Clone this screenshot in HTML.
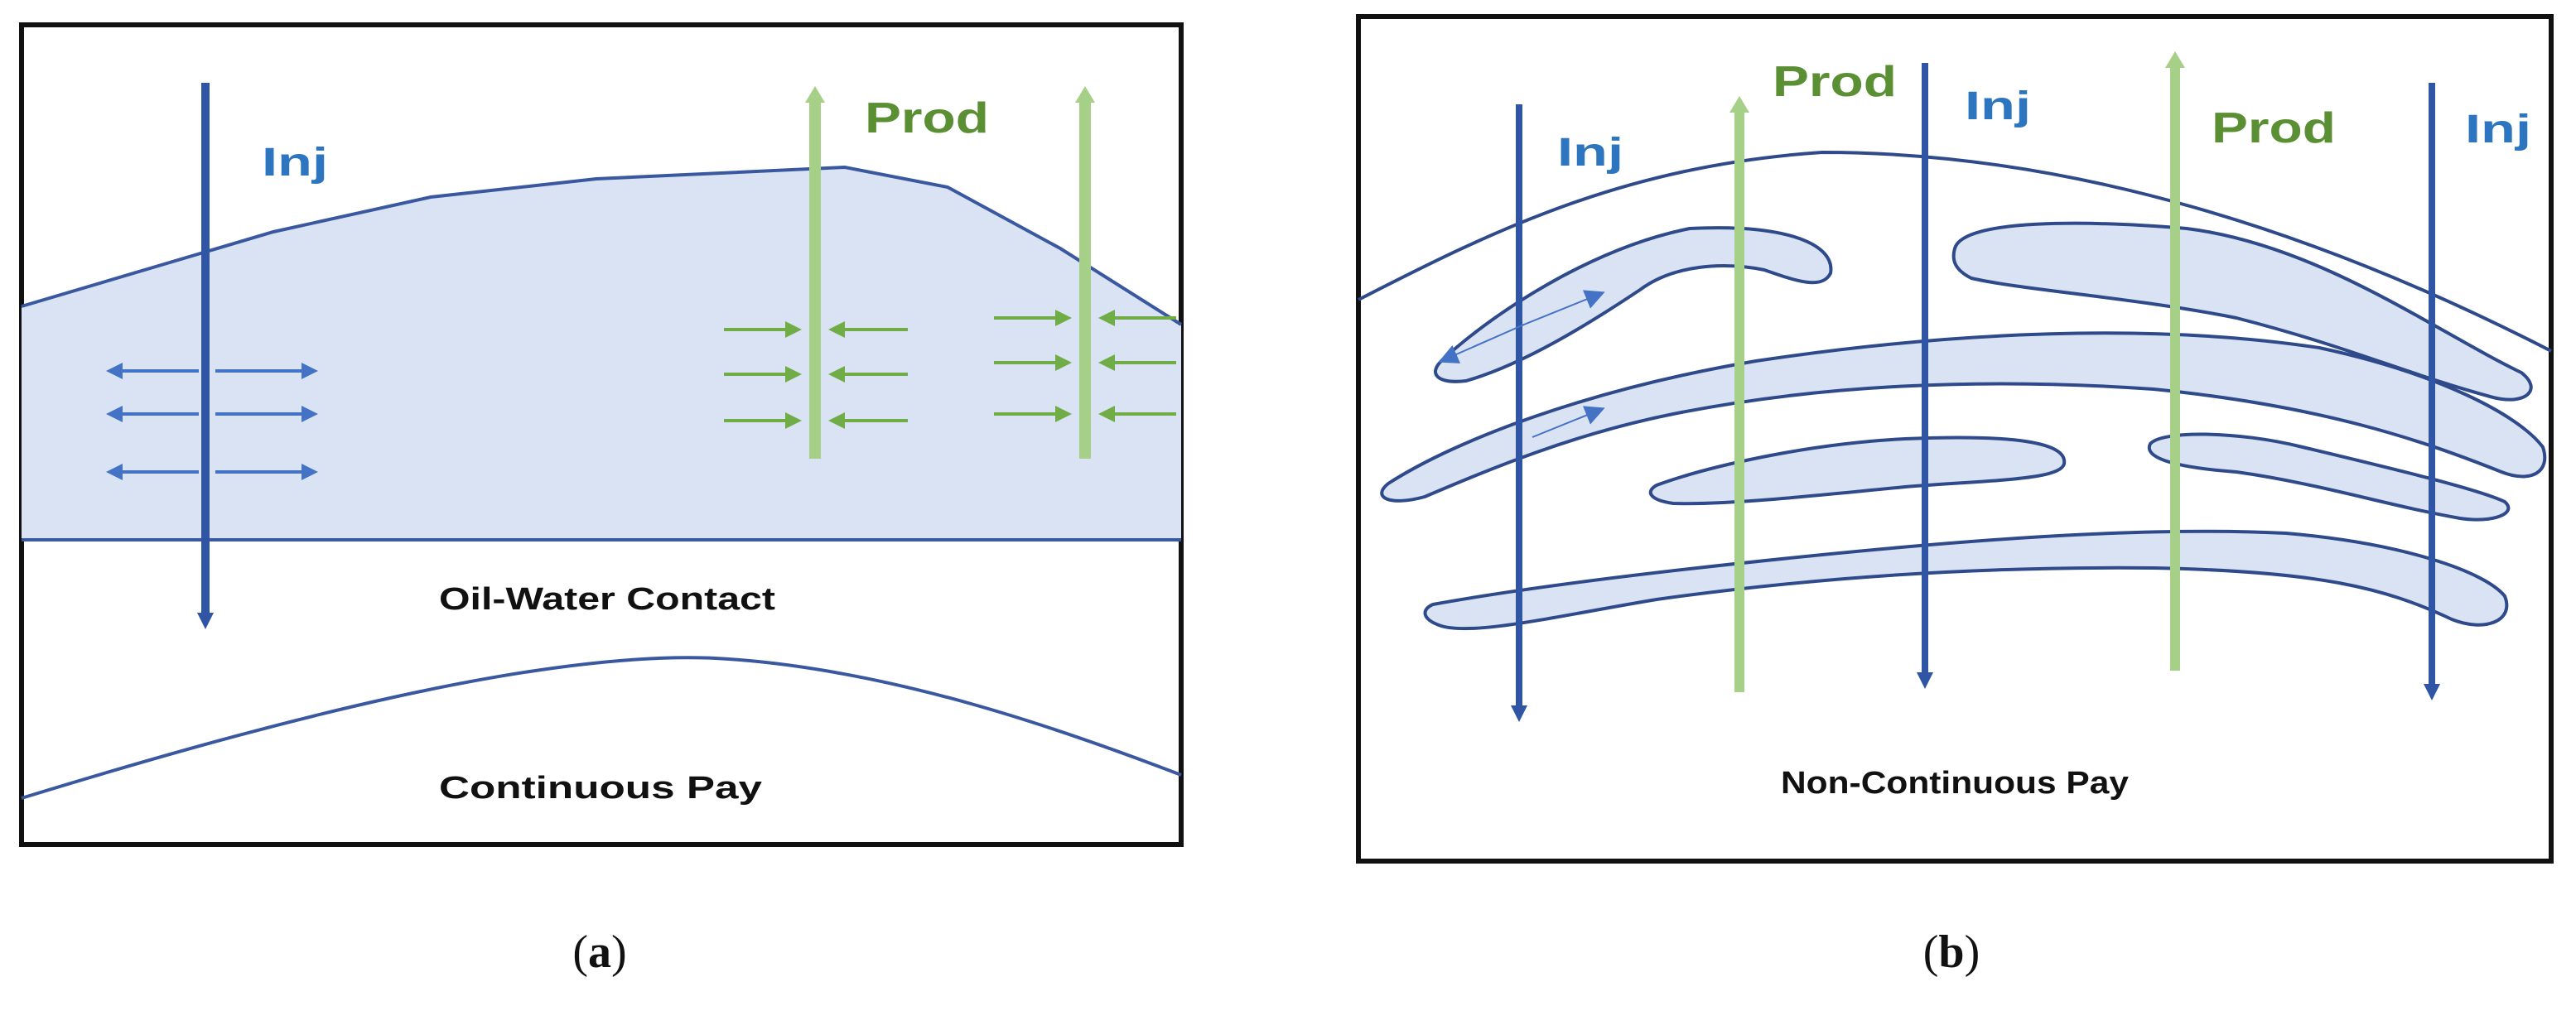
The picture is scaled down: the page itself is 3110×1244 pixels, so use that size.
<!DOCTYPE html>
<html><head><style>html,body{margin:0;padding:0;background:#fff}svg{display:block}</style></head>
<body>
<svg width="3110" height="1244" viewBox="0 0 1555 622" xmlns="http://www.w3.org/2000/svg">
<defs>
<marker id="bd" markerWidth="12" markerHeight="12" refX="4" refY="6" orient="auto" markerUnits="userSpaceOnUse"><path d="M0,1 L10,6 L0,11 Z" fill="#2f55a4"/></marker>
<marker id="gd" markerWidth="14" markerHeight="14" refX="4" refY="7" orient="auto" markerUnits="userSpaceOnUse"><path d="M0,1 L10,7 L0,13 Z" fill="#a6cf88"/></marker>
<marker id="ba" markerWidth="5" markerHeight="5" refX="4" refY="2.5" orient="auto" markerUnits="strokeWidth"><path d="M0,0 L5,2.5 L0,5 Z" fill="#4472c4"/></marker>
<marker id="ga" markerWidth="5" markerHeight="5" refX="4" refY="2.5" orient="auto" markerUnits="strokeWidth"><path d="M0,0 L5,2.5 L0,5 Z" fill="#70ad47"/></marker>
<marker id="sa" markerWidth="12" markerHeight="12" refX="10" refY="6" orient="auto" markerUnits="userSpaceOnUse"><path d="M0,0 L12,6 L0,12 Z" fill="#4472c4"/></marker>
</defs>
<!-- Panel a -->
<rect x="13" y="15" width="700" height="495" fill="#fff" stroke="#111" stroke-width="3"/>
<path d="M13,185 L165,140 L260,119 L360,108 L510,101 L572,113 L640,150 L713,196 L713,326 L13,326 Z" fill="#dae3f3" stroke="none"/>
<path d="M13,185 L165,140 L260,119 L360,108 L510,101 L572,113 L640,150 L713,196" fill="none" stroke="#3a58a0" stroke-width="2"/>
<line x1="13" y1="326" x2="713" y2="326" stroke="#3a58a0" stroke-width="2"/>
<path d="M13,482 C150,440 330,390 440,398 C540,405 640,440 713,468" fill="none" stroke="#3a58a0" stroke-width="2"/>
<g stroke="#4472c4" stroke-width="2" fill="none">
<line x1="120" y1="224" x2="66" y2="224" marker-end="url(#ba)"/><line x1="130" y1="224" x2="190" y2="224" marker-end="url(#ba)"/>
<line x1="120" y1="250" x2="66" y2="250" marker-end="url(#ba)"/><line x1="130" y1="250" x2="190" y2="250" marker-end="url(#ba)"/>
<line x1="120" y1="285" x2="66" y2="285" marker-end="url(#ba)"/><line x1="130" y1="285" x2="190" y2="285" marker-end="url(#ba)"/>
</g>
<line x1="124" y1="50" x2="124" y2="374" stroke="#2f55a4" stroke-width="5" marker-end="url(#bd)"/>
<g stroke="#70ad47" stroke-width="2" fill="none">
<line x1="437" y1="199" x2="482" y2="199" marker-end="url(#ga)"/><line x1="548" y1="199" x2="502" y2="199" marker-end="url(#ga)"/>
<line x1="437" y1="226" x2="482" y2="226" marker-end="url(#ga)"/><line x1="548" y1="226" x2="502" y2="226" marker-end="url(#ga)"/>
<line x1="437" y1="254" x2="482" y2="254" marker-end="url(#ga)"/><line x1="548" y1="254" x2="502" y2="254" marker-end="url(#ga)"/>
<line x1="600" y1="192" x2="645" y2="192" marker-end="url(#ga)"/><line x1="710" y1="192" x2="665" y2="192" marker-end="url(#ga)"/>
<line x1="600" y1="219" x2="645" y2="219" marker-end="url(#ga)"/><line x1="710" y1="219" x2="665" y2="219" marker-end="url(#ga)"/>
<line x1="600" y1="250" x2="645" y2="250" marker-end="url(#ga)"/><line x1="710" y1="250" x2="665" y2="250" marker-end="url(#ga)"/>
</g>
<line x1="492" y1="277" x2="492" y2="58" stroke="#a6cf88" stroke-width="7" marker-end="url(#gd)"/>
<line x1="655" y1="277" x2="655" y2="58" stroke="#a6cf88" stroke-width="7" marker-end="url(#gd)"/>
<g font-family="Liberation Sans, sans-serif" font-weight="bold">
<text x="158" y="106" font-size="24" fill="#2e75c0" textLength="40" lengthAdjust="spacingAndGlyphs">Inj</text>
<text x="522" y="80" font-size="26" fill="#5b8f34" textLength="75" lengthAdjust="spacingAndGlyphs">Prod</text>
<text x="265" y="368" font-size="19" fill="#111" textLength="203" lengthAdjust="spacingAndGlyphs">Oil-Water Contact</text>
<text x="265" y="482" font-size="19" fill="#111" textLength="195" lengthAdjust="spacingAndGlyphs">Continuous Pay</text>
</g>
<text x="362" y="584" font-family="Liberation Serif, serif" font-size="28" text-anchor="middle" fill="#111">(<tspan font-weight="bold">a</tspan>)</text>

<!-- Panel b -->
<rect x="820" y="10" width="720" height="510" fill="#fff" stroke="#111" stroke-width="3"/>
<path d="M820,181 C900,140 980,100 1100,92 C1250,92 1400,140 1540,212" fill="none" stroke="#2f4a8a" stroke-width="2"/>
<g fill="#dae3f3" stroke="#2f4a8a" stroke-width="2">
<path d="M870,218 C900,190 960,150 1020,138 C1080,135 1108,148 1105,165 C1100,175 1085,170 1065,163 C1040,158 1010,160 990,175 C960,195 920,220 885,230 C868,232 862,226 870,218 Z"/>
<path d="M1180,150 C1185,132 1260,133 1320,138 C1400,148 1470,200 1522,225 C1535,235 1525,245 1505,240 C1450,225 1420,210 1350,192 C1290,180 1220,175 1190,168 C1180,163 1178,157 1180,150 Z"/>
<path d="M838,292 C880,265 960,235 1060,218 C1180,200 1300,195 1400,210 C1470,225 1520,250 1535,270 C1540,285 1528,292 1510,285 C1460,265 1400,245 1300,235 C1200,228 1100,232 1010,250 C950,262 900,283 860,300 C838,306 828,300 838,292 Z"/>
<path d="M1000,293 C1030,282 1090,268 1150,265 C1220,262 1248,268 1246,280 C1244,290 1200,290 1150,294 C1090,300 1040,305 1010,304 C996,302 993,297 1000,293 Z"/>
<path d="M1298,268 C1305,260 1350,260 1390,270 C1440,282 1495,295 1512,303 C1520,310 1505,316 1485,313 C1440,305 1400,292 1350,285 C1310,282 1294,276 1298,268 Z"/>
<path d="M865,365 C920,355 1000,345 1100,335 C1200,325 1300,318 1380,322 C1450,328 1500,345 1512,360 C1518,375 1500,382 1480,374 C1440,355 1400,345 1300,343 C1200,342 1100,348 1000,362 C940,372 890,384 870,378 C858,374 858,368 865,365 Z"/>
</g>
<line x1="917" y1="63" x2="917" y2="430" stroke="#2f55a4" stroke-width="4" marker-end="url(#bd)"/>
<line x1="1162" y1="38" x2="1162" y2="410" stroke="#2f55a4" stroke-width="4" marker-end="url(#bd)"/>
<line x1="1468" y1="50" x2="1468" y2="417" stroke="#2f55a4" stroke-width="4" marker-end="url(#bd)"/>
<line x1="1050" y1="418" x2="1050" y2="64" stroke="#a6cf88" stroke-width="6" marker-end="url(#gd)"/>
<line x1="1313" y1="405" x2="1313" y2="37" stroke="#a6cf88" stroke-width="6" marker-end="url(#gd)"/>
<g stroke="#4472c4" stroke-width="1" fill="none">
<line x1="920" y1="196" x2="870" y2="218" marker-end="url(#sa)"/>
<line x1="915" y1="198" x2="967" y2="177" marker-end="url(#sa)"/>
<line x1="925" y1="264" x2="967" y2="247" marker-end="url(#sa)"/>
</g>
<g font-family="Liberation Sans, sans-serif" font-weight="bold">
<text x="940" y="100" font-size="24" fill="#2e75c0" textLength="40" lengthAdjust="spacingAndGlyphs">Inj</text>
<text x="1070" y="58" font-size="26" fill="#5b8f34" textLength="75" lengthAdjust="spacingAndGlyphs">Prod</text>
<text x="1186" y="72" font-size="24" fill="#2e75c0" textLength="40" lengthAdjust="spacingAndGlyphs">Inj</text>
<text x="1335" y="86" font-size="26" fill="#5b8f34" textLength="75" lengthAdjust="spacingAndGlyphs">Prod</text>
<text x="1488" y="86" font-size="24" fill="#2e75c0" textLength="40" lengthAdjust="spacingAndGlyphs">Inj</text>
<text x="1075" y="479" font-size="19" fill="#111" textLength="210" lengthAdjust="spacingAndGlyphs">Non-Continuous Pay</text>
</g>
<text x="1178" y="584" font-family="Liberation Serif, serif" font-size="28" text-anchor="middle" fill="#111">(<tspan font-weight="bold">b</tspan>)</text>
</svg>
</body></html>
